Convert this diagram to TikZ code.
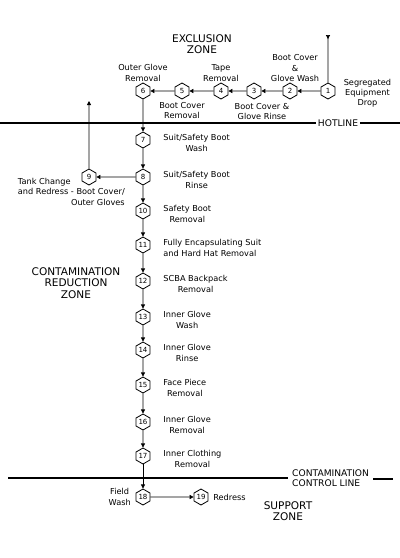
\documentclass[tikz,border=0pt]{standalone}
\usepackage{fontspec}
\setmainfont{DejaVu Sans}
\usetikzlibrary{shapes.geometric, arrows.meta, positioning}

\newcommand{\zonefont}{\fontsize{9}{9.8}\selectfont}
\newcommand{\linefont}{\fontsize{7.8}{8.6}\selectfont}
\newcommand{\stepfont}{\fontsize{7}{8.8}\selectfont}
\newcommand{\numfont}{\fontsize{6}{7}\selectfont}

\begin{document}
\begin{tikzpicture}[
  x=0.03cm, y=-0.03cm,
  node distance=1pt and 11pt,
  stepno/.style={regular polygon, regular polygon sides=6, shape border rotate=90, draw, line width=0.7pt, minimum size=0.48cm, inner sep=0pt, font=\numfont},
  lbl/.style={align=center, inner sep=0pt, font=\stepfont},
  steplbl/.style={lbl, right=11pt of #1, yshift=-2.5pt},
  zone/.style={align=center, inner sep=0pt, font=\zonefont},
  arrow/.style={-{Triangle[length=3.5pt, width=3.5pt]}, line width=0.6pt},
  boundary/.style={line width=1pt}
]
  \useasboundingbox (0,0) rectangle (400,558);

  % exclusion zone
  \node[stepno] (n1) at (328,91) {1};
  \node[stepno] (n2) at (290,91) {2};
  \node[stepno] (n3) at (254,91) {3};
  \node[stepno] (n4) at (221,91) {4};
  \node[stepno] (n5) at (182,91) {5};
  \node[stepno] (n6) at (143,91) {6};

  % contamination reduction zone
  \node[stepno] (n7) at (143,140) {7};
  \node[stepno] (n8) at (143,177) {8};
  \node[stepno] (n9) at (89,177) {9};
  \node[stepno] (n10) at (143,211) {10};
  \node[stepno] (n11) at (143,245) {11};
  \node[stepno] (n12) at (143,281) {12};
  \node[stepno] (n13) at (143,317) {13};
  \node[stepno] (n14) at (143,350) {14};
  \node[stepno] (n15) at (143,385) {15};
  \node[stepno] (n16) at (143,422) {16};
  \node[stepno] (n17) at (143,456) {17};

  % support zone
  \node[stepno] (n18) at (143,497) {18};
  \node[stepno] (n19) at (201,497) {19};

  % step labels
  \node[lbl, right=7pt of n1, yshift=-2pt] (l1) {Segregated\\Equipment\\Drop};
  \node[lbl, above=0.5pt of n2, xshift=4.3pt] (l2) {Boot Cover\\\&\\Glove Wash};
  \node[lbl, below=3pt of n3, xshift=6.8pt] (l3) {Boot Cover \&\\Glove Rinse};
  \node[lbl, above=of n4] (l4) {Tape\\Removal};
  \node[lbl, below=2pt of n5] (l5) {Boot Cover\\Removal};
  \node[lbl, above=of n6] (l6) {Outer Glove\\Removal};
  \node[steplbl=n7] (l7) {Suit/Safety Boot\\Wash};
  \node[steplbl=n8] (l8) {Suit/Safety Boot\\Rinse};
  \node[lbl, anchor=north east] (l9) at (125,177) {\begin{tabular}{@{}r@{}}\multicolumn{1}{@{}l@{}}{Tank Change}\\and Redress - Boot Cover/\\Outer Gloves\end{tabular}};
  \node[steplbl=n10] (l10) {Safety Boot\\Removal};
  \node[steplbl=n11, align=left] (l11) {Fully Encapsulating Suit\\and Hard Hat Removal};
  \node[steplbl=n12] (l12) {SCBA Backpack\\Removal};
  \node[steplbl=n13] (l13) {Inner Glove\\Wash};
  \node[steplbl=n14] (l14) {Inner Glove\\Rinse};
  \node[steplbl=n15] (l15) {Face Piece\\Removal};
  \node[steplbl=n16] (l16) {Inner Glove\\Removal};
  \node[steplbl=n17] (l17) {Inner Clothing\\Removal};
  \node[lbl, left=4pt of n18] (l18) {Field\\Wash};
  \node[lbl, right=4pt of n19] (l19) {Redress};

  % zones
  \node[zone] (excl) at (202,44) {EXCLUSION\\ZONE};
  \node[zone] (reduc) at (76,283) {CONTAMINATION\\REDUCTION\\ZONE};
  \node[zone] (supp) at (288,511) {SUPPORT\\ZONE};

  % hotline and contamination control line
  \coordinate (hotL) at (0,123);
  \coordinate (hotR) at (400,123);
  \node[font=\linefont, inner sep=1.5pt] (hot) at (338,123) {HOTLINE};
  \draw[boundary] (hotL) -- (hot.west);
  \draw[boundary] (hot.east) -- (hotR);
  \coordinate (ccL) at (8,478);
  \coordinate (ccR) at (393,479);
  \node[font=\linefont, align=left, anchor=west, inner sep=3.4pt] (ccl) at (288,478) {CONTAMINATION\\CONTROL LINE};
  \draw[boundary] (ccL) -- (ccl.west);
  \draw[boundary] (ccl.east |- ccR) -- (ccR);

  % flow
  \coordinate (entry) at (328,35);
  \coordinate (exit) at (89,101);
  \draw[{Triangle[reversed, length=3.5pt, width=3.5pt]}-, line width=0.6pt] (entry) -- (n1);
  \draw[arrow] (n1) -- (n2);
  \draw[arrow] (n2) -- (n3);
  \draw[arrow] (n3) -- (n4);
  \draw[arrow] (n4) -- (n5);
  \draw[arrow] (n5) -- (n6);
  \draw[arrow] (n6) -- (n7);
  \draw[arrow] (n7) -- (n8);
  \draw[arrow] (n8) -- (n9);
  \draw[arrow] (n9) -- (exit);
  \draw[arrow] (n8) -- (n10);
  \draw[arrow] (n10) -- (n11);
  \draw[arrow] (n11) -- (n12);
  \draw[arrow] (n12) -- (n13);
  \draw[arrow] (n13) -- (n14);
  \draw[arrow] (n14) -- (n15);
  \draw[arrow] (n15) -- (n16);
  \draw[arrow] (n16) -- (n17);
  \draw[arrow] (n17) -- (n18);
  \draw[arrow] (n18) -- (n19);
\end{tikzpicture}
\end{document}
